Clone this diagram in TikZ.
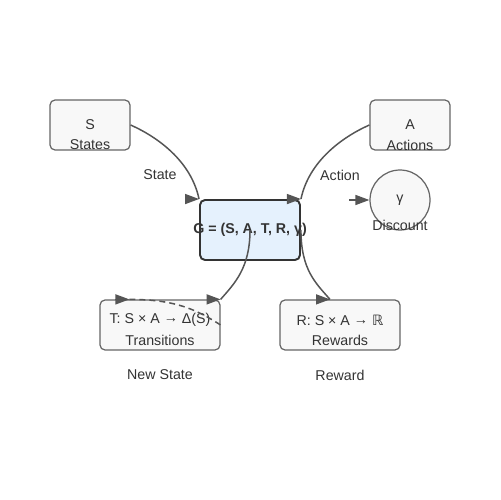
\documentclass[tikz,border=0pt]{standalone}
\usepackage{fontspec}
\setmainfont{Liberation Sans}
\newfontfamily\realsfont{DejaVu Sans}
\usetikzlibrary{arrows.meta,positioning}
\definecolor{edgegray}{HTML}{555555}
\definecolor{boxline}{HTML}{666666}
\definecolor{boxfill}{HTML}{F8F8F8}
\definecolor{gline}{HTML}{333333}
\definecolor{gfill}{HTML}{E5F1FD}
\definecolor{textgray}{HTML}{333333}
\newcommand{\MdpTip}{14}

\begin{document}
\begin{tikzpicture}[x=0.02cm,y=-0.02cm,
		font=\fontsize{8.1}{9.7}\selectfont, text=textgray,
		box/.style={draw=boxline, fill=boxfill, line width=0.7pt, rounded corners=0.1cm, minimum width=1.6cm, minimum height=1cm, inner sep=0pt},
		txt/.style={inner sep=0pt},
		edge/.style={draw=edgegray, line width=0.85pt},
		tip/.style={edge, -{Triangle[length=0.28cm,width=0.2cm]}}]
	\useasboundingbox (0,0) rectangle (500,500);
	% sets and functions
	\node[box] (s) at (90,125) {};
	\node[box] (a) at (410,125) {};
	\node[box, circle, minimum size=1.2cm] (gamma) at (400,200) {};
	\node[box, minimum width=2.4cm] (t) at (160,325) {};
	\node[box, minimum width=2.4cm] (r) at (340,325) {};
	\node[box, draw=gline, fill=gfill, line width=1.1pt, minimum width=2cm, minimum height=1.2cm] (g) at (250,230) {};
	% texts of the boxes
	\node[txt] (g-sym) at (250,230) {\textbf{G = (S, A, T, R, γ)}};
	\node[txt] (s-sym) at (90,125) {S};
	\node[txt] (s-name) at (90,145) {States};
	\node[txt] (a-sym) at (410,125) {A};
	\node[txt] (a-name) at (410,145) {Actions};
	\node[txt] (gamma-sym) at (400,200) {γ};
	\node[txt] (gamma-name) at (400,225) {Discount};
	\node[txt] (t-sym) at (160,320) {T: S × A \raisebox{0.6pt}{→} Δ(S)};
	\node[txt] (t-name) at (160,340) {Transitions};
	\node[txt] (r-sym) at (340,320) {R: S × A \raisebox{0.6pt}{→} {\realsfont ℝ}};
	\node[txt] (r-name) at (340,340) {Rewards};
	% edge labels
	\node[txt] (l-state) at (160,175) {State};
	\node[txt] (l-action) at (340,175) {Action};
	\node[txt] (l-new) at (160,375) {New State};
	\node[txt] (l-reward) at (340,375) {Reward};
	% connectors
	\draw[edge] (s.east) .. controls +(27,12) and +(-8,-38) .. (g.north west);
	\draw[tip] (g.north west) ++(-\MdpTip,0) -- (g.north west);
	\draw[edge] (a.west) .. controls +(-27,12) and +(8,-38) .. (g.north east);
	\draw[tip] (g.north east) ++(-\MdpTip,0) -- (g.north east);
	\draw[tip] (gamma.west) ++(-20,0) -- (gamma.west);
	\draw[edge] (g.center) .. controls +(0,38) and +(14,-16) .. (t.north east);
	\draw[tip] (t.north east) ++(-\MdpTip,0) -- (t.north east);
	\draw[edge, dash pattern=on 3.4pt off 2.3pt] (t.north west) ++(30,0) .. controls +(45,0) and +(-25,-16) .. (t.east);
	\draw[tip] (t.north west) ++(16,0) -- ++(\MdpTip,0);
	\draw[edge] (g.east) .. controls +(0,40) and +(-14,-16) .. ([xshift=-0.2cm]r.north);
	\draw[tip] ([xshift=-0.2cm]r.north) ++(-\MdpTip,0) -- ++(\MdpTip,0);
\end{tikzpicture}
\end{document}
